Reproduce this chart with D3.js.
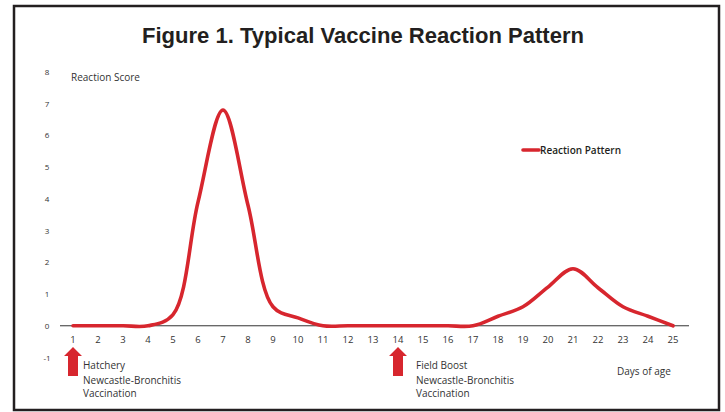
<!DOCTYPE html>
<html><head><meta charset="utf-8">
<script src="https://cdn.jsdelivr.net/npm/d3@7"></script>
<style>body{margin:0;background:#fff}svg{display:block}</style>
</head><body>
<svg id="c" width="725" height="412"></svg>
<script>
const days = [1,2,3,4,5,6,7,8,9,10,11,12,13,14,15,16,17,18,19,20,21,22,23,24,25];
const reaction = [0,0,0,0,0.35,3.9,6.8,3.8,0.6,0.25,0,0,0,0,0,0,0,0.3,0.6,1.22,1.8,1.2,0.6,0.3,0];
const yTicks = [-1,0,1,2,3,4,5,6,7,8];
const vaccinations = [
  {day:1, lines:["Hatchery","Newcastle-Bronchitis","Vaccination"]},
  {day:14, lines:["Field Boost","Newcastle-Bronchitis","Vaccination"]}
];
const title = "Figure 1. Typical Vaccine Reaction Pattern";
const seriesName = "Reaction Pattern";
const red = "#d7262e";
const font = "'Open Sans', sans-serif";

const svg = d3.select("#c");
svg.append("rect").attr("x",14).attr("y",6).attr("width",705).attr("height",404)
  .attr("fill","none").attr("stroke","#231f20").attr("stroke-width",2.5);

svg.append("text").attr("x",363).attr("y",43).attr("text-anchor","middle")
  .attr("font-family","'Liberation Sans', Arial, sans-serif").attr("font-weight","bold")
  .attr("font-size",22).attr("fill","#231f20")
  .attr("textLength",442).attr("lengthAdjust","spacingAndGlyphs").text(title);

const x = d3.scaleLinear().domain([1,25]).range([73,673]);
const y = d3.scaleLinear().domain([-1,8]).range([357.5,72]);

// y tick labels
svg.append("g").selectAll("text").data(yTicks).join("text")
  .attr("x",47).attr("y",d=>y(d)+3).attr("text-anchor","middle")
  .attr("font-family",font).attr("font-size",8).attr("fill","#333").text(d=>d);

// x axis line
svg.append("line").attr("x1",60).attr("x2",689).attr("y1",y(0)).attr("y2",y(0))
  .attr("stroke","#333").attr("stroke-width",1);

// x tick labels
svg.append("g").selectAll("text").data(days).join("text")
  .attr("x",d=>x(d)).attr("y",y(0)+17).attr("text-anchor","middle")
  .attr("font-family",font).attr("font-size",9.5).attr("fill","#333").text(d=>d);

svg.append("text").attr("x",71).attr("y",81).attr("font-family",font)
  .attr("font-size",10).attr("fill","#333").text("Reaction Score");
svg.append("text").attr("x",617).attr("y",375).attr("font-family",font)
  .attr("font-size",10).attr("fill","#333").text("Days of age");

// line
const line = d3.line().x((d,i)=>x(days[i])).y(d=>y(d)).curve(d3.curveCatmullRom.alpha(0.5));
svg.append("path").datum(reaction).attr("d",line).attr("fill","none")
  .attr("stroke",red).attr("stroke-width",3.6).attr("stroke-linejoin","round").attr("stroke-linecap","round");

// legend
svg.append("line").attr("x1",523).attr("x2",539).attr("y1",150).attr("y2",150)
  .attr("stroke",red).attr("stroke-width",3.6).attr("stroke-linecap","round");
svg.append("text").attr("x",540).attr("y",154).attr("font-family",font).attr("font-weight",600)
  .attr("font-size",10).attr("fill","#231f20").text(seriesName);

// vaccination arrows and labels
const g = svg.append("g").selectAll("g").data(vaccinations).join("g")
  .attr("transform",d=>`translate(${x(d.day)},0)`);
g.append("path").attr("d","M0,347 L9,356 L5,356 L5,376 L-5,376 L-5,356 L-9,356 Z").attr("fill",red);
g.each(function(d,k){
  d3.select(this).selectAll("text").data(d.lines).join("text")
    .attr("x",k===0?10:18).attr("y",(t,i)=>[369,384,397][i]).attr("font-family",font)
    .attr("font-size",10).attr("fill","#333").text(t=>t);
});
</script>
</body></html>
